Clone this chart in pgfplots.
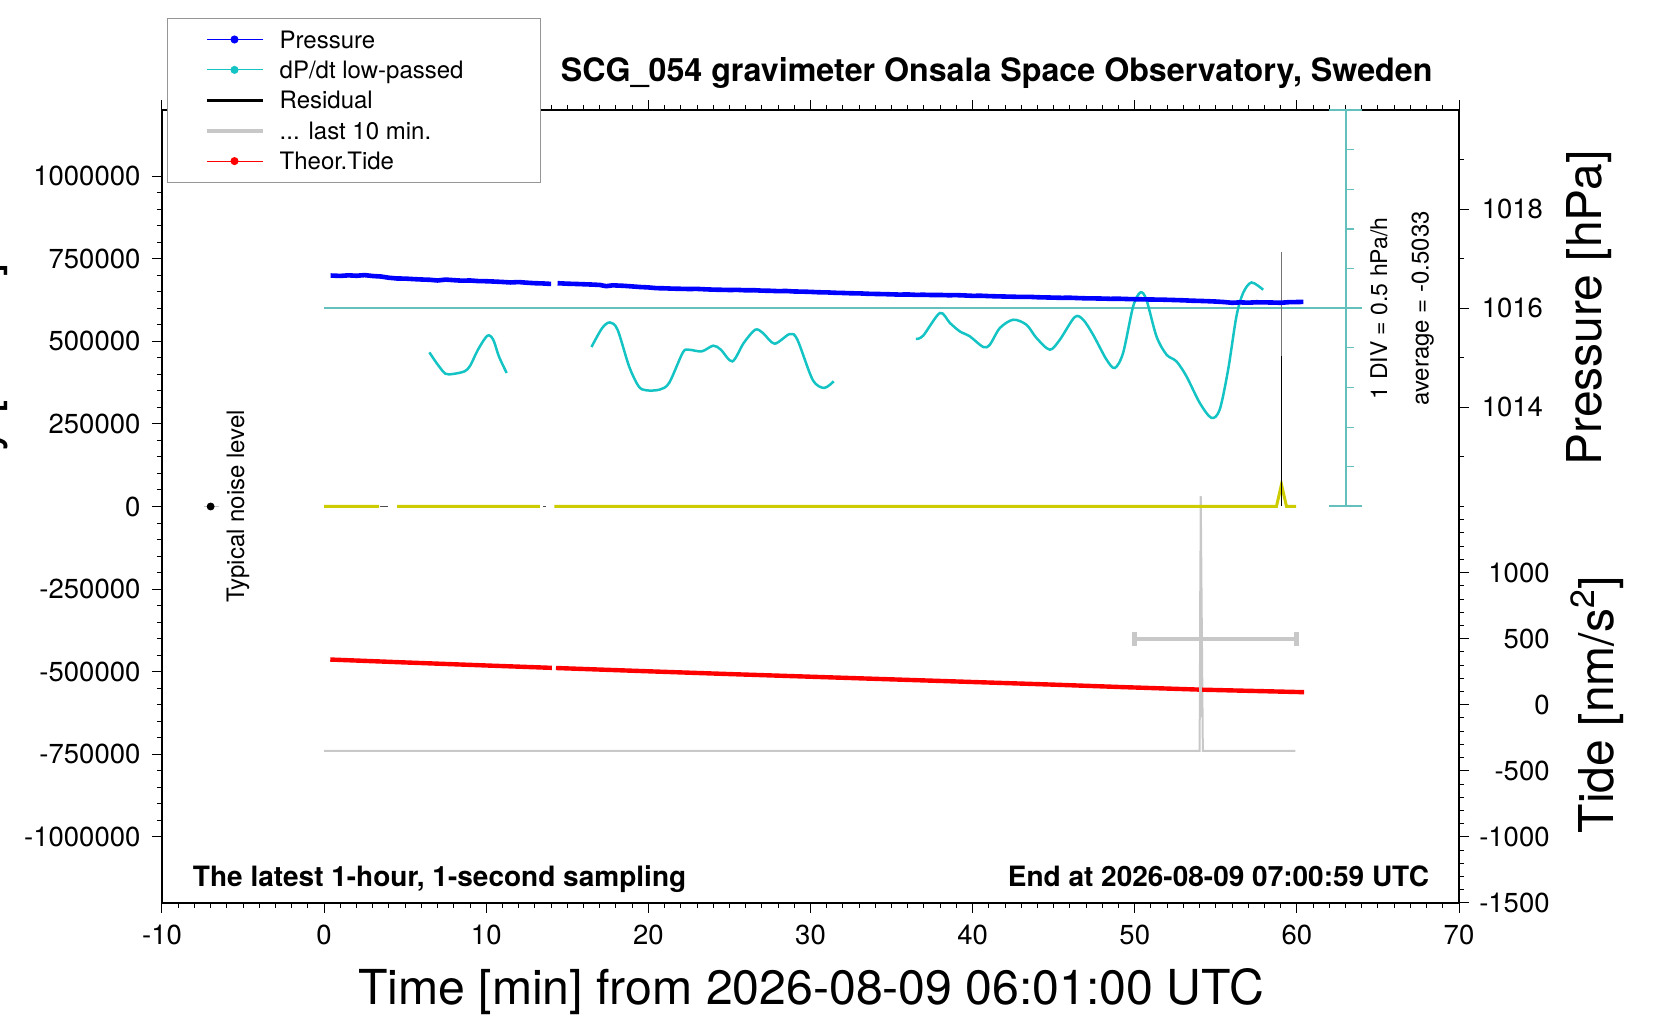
\documentclass[border=0pt]{standalone}
\usepackage{fontspec}
\setmainfont{TeX Gyre Heros}
\usepackage{pgfplots}
\pgfplotsset{compat=1.18}
\newlength\px \setlength\px{0.5pt}
\definecolor{pblue}{RGB}{0,0,255}
\definecolor{pcyan}{RGB}{20,196,196}
\definecolor{pteal}{RGB}{100,192,188}
\definecolor{pyel}{RGB}{204,204,0}
\definecolor{pred}{RGB}{255,0,0}
\definecolor{pgray}{RGB}{200,200,200}
\definecolor{lgray}{RGB}{150,150,150}
\begin{document}
\begin{tikzpicture}
\pgfplotsset{
  base/.style={scale only axis, width=1297\px, height=793\px, at={(0,0)}, anchor=south west,
    xmin=-10, xmax=70, unbounded coords=jump,
    tick align=outside, major tick length=5pt, minor tick length=2.5pt,
    tick style={black, line width=0.5pt},
    axis line style={line width=1pt},
    tick label style={font=\fontsize{13.75}{16}\selectfont, inner sep=0pt},
  }
}
% ---------------- main (left) axis, units of 1000 ----------------
\begin{axis}[base, ymin=-1200, ymax=1200,
  xtick={-10,0,10,20,30,40,50,60,70}, xticklabels={-10,0,10,20,30,40,50,60,70},
  minor x tick num=9, xtick pos=both, xticklabel pos=left,
  ytick={-1000,-750,-500,-250,0,250,500,750,1000},
  yticklabels={-1000000,-750000,-500000,-250000,0,250000,500000,750000,1000000},
  minor y tick num=4, ytick pos=left,
  xticklabel style={yshift=-6pt}, yticklabel style={xshift=-5.6pt}]
% dP/dt reference line and scale
\addplot[pteal, line width=1pt] coordinates {(0,600) (64,600)};
\addplot[pteal, line width=1pt] coordinates {(63,0) (63,1200)};
\addplot[pteal, line width=1pt] coordinates {(62,0) (64,0) (nan,nan) (62,1200) (64,1200)};
\addplot[pteal, line width=0.6pt] coordinates {(63,120) (63.5,120) (nan,nan) (63,240) (63.5,240) (nan,nan)
  (63,360) (63.5,360) (nan,nan) (63,480) (63.5,480) (nan,nan) (63,720) (63.5,720) (nan,nan)
  (63,840) (63.5,840) (nan,nan) (63,960) (63.5,960) (nan,nan) (63,1080) (63.5,1080)};
% dP/dt low-passed
\addplot[pcyan, line width=1.25pt, smooth, tension=0.5] coordinates {
 (6.49,466.4) (7.01,429.2) (7.48,402.0) (7.95,401.1) (8.66,409.0) (9.01,426.2) (9.49,474.6)
 (10.07,516.9) (10.43,504.8) (10.78,454.3) (11.26,404.1)};
\addplot[pcyan, line width=1.25pt, smooth, tension=0.5] coordinates {
 (16.49,482.7) (17.15,540.1) (17.63,557.1) (18.10,535.0) (18.81,424.1) (19.40,363.6) (19.87,351.6)
 (20.69,353.7) (21.28,373.9) (22.11,464.6) (22.46,474.6) (23.29,469.5) (24.0,486.7) (24.47,474.6)
 (25.18,439.2) (25.88,494.8) (26.59,535.0) (27.07,525.0) (27.78,492.7) (28.72,522.0) (29.19,504.8)
 (30.13,383.9) (30.84,358.8) (31.43,378.8)};
\addplot[pcyan, line width=1.25pt, smooth, tension=0.5] coordinates {
 (36.50,506.9) (36.95,516.9) (37.98,585.5) (38.6,555.3) (39.21,529.9) (39.83,514.8) (40.65,482.7)
 (41.06,489.7) (41.68,540.1) (42.50,565.2) (43.32,550.1) (43.94,509.9) (44.76,474.6) (45.38,504.8)
 (46.30,573.4) (46.82,565.2) (47.43,519.9) (48.26,444.3) (48.77,419.2) (49.28,464.6) (49.90,605.4)
 (50.35,647.8) (50.72,625.7) (51.34,514.8) (51.96,459.5) (52.57,439.2) (53.19,393.9) (54.01,313.4)
 (54.73,268.1) (55.24,293.2) (55.76,414.1) (56.27,575.2) (56.68,645.9) (57.20,678.0) (57.92,655.9)};
% last 10 min (grey baseline with spike)
\addplot[pgray, line width=1pt] coordinates {(0,-739.7) (54.0,-739.7) (54.07,31) (54.2,-739.7) (59.9,-739.7)};
% yellow zero line with spike
\addplot[pyel, line width=1.5pt] coordinates {(0,0) (3.4,0) (nan,nan) (4.5,0) (13.3,0) (nan,nan)
  (14.2,0) (58.74,0) (59.05,66.5) (59.36,0) (59.96,0)};
\addplot[black!70, line width=0.8pt] coordinates {(3.47,0) (3.91,0) (nan,nan) (13.49,0) (13.71,0)};
% residual
\addplot[black, line width=0.8pt] coordinates {(59.05,0) (59.05,454)};
\addplot[black!55, line width=0.6pt] coordinates {(59.05,454) (59.05,771.7)};
% typical noise level
\addplot[pgray, line width=0.8pt] coordinates {(-7.4,0) (-6.5,0)};
\addplot[black, only marks, mark=*, mark size=1.75pt] coordinates {(-7,0)};
\end{axis}
% ---------------- pressure axis ----------------
\begin{axis}[base, ymin=1004, ymax=1020, axis y line*=right, axis x line=none,
  ytick={1014,1016,1018}, yticklabels={1014,1016,1018}, minor ytick={1013,1015,1017,1019},
  yticklabel style={anchor=west, xshift=6.2pt}]
\addplot[pblue, line width=2.3pt, line join=round] coordinates {
 (0.4,1016.660) (1.0,1016.652) (1.5,1016.664) (2.0,1016.655) (2.5,1016.668) (3.0,1016.650)
 (3.5,1016.640) (4.0,1016.615) (4.5,1016.600) (5.0,1016.598) (5.5,1016.588) (6.0,1016.580)
 (6.5,1016.574) (7.0,1016.560) (7.5,1016.578) (8.0,1016.566) (8.5,1016.556) (9.0,1016.560)
 (9.5,1016.548) (10.0,1016.545) (10.5,1016.538) (11.0,1016.530) (11.5,1016.520) (12.0,1016.528)
 (12.5,1016.515) (13.0,1016.505) (13.5,1016.500) (14.0,1016.490)};
\addplot[pblue, line width=2.3pt, line join=round] coordinates {
 (14.4,1016.505) (15.0,1016.495) (15.5,1016.490) (16.0,1016.484) (16.5,1016.478) (17.0,1016.470)
 (17.4,1016.445) (17.8,1016.462) (18.5,1016.452) (19.0,1016.440) (19.5,1016.428) (20.0,1016.420)
 (20.5,1016.405) (21.0,1016.402) (21.5,1016.395) (22.0,1016.392) (22.5,1016.388) (23.0,1016.390)
 (23.5,1016.382) (24.0,1016.375) (24.5,1016.372) (25.0,1016.368) (25.5,1016.370) (26.0,1016.362)
 (26.5,1016.364) (27.0,1016.355) (27.5,1016.352) (28.0,1016.345) (28.5,1016.348) (29.0,1016.338)
 (29.5,1016.335) (30.0,1016.330) (30.5,1016.322) (31.0,1016.320) (31.5,1016.312) (32.0,1016.308)
 (32.5,1016.302) (33.0,1016.300) (33.5,1016.292) (34.0,1016.288) (34.5,1016.285) (35.0,1016.280)
 (35.5,1016.275) (36.0,1016.278) (36.5,1016.270) (37.0,1016.272) (37.5,1016.266) (38.0,1016.268)
 (38.5,1016.262) (39.0,1016.264) (39.5,1016.258) (40.0,1016.250) (40.5,1016.252) (41.0,1016.245)
 (41.5,1016.240) (42.0,1016.236) (42.5,1016.232) (43.0,1016.228) (43.5,1016.230) (44.0,1016.222)
 (44.5,1016.218) (45.0,1016.214) (45.5,1016.210) (46.0,1016.212) (46.5,1016.205) (47.0,1016.200)
 (47.5,1016.198) (48.0,1016.195) (48.5,1016.190) (49.0,1016.192) (49.5,1016.186) (50.0,1016.182)
 (50.5,1016.180) (51.0,1016.176) (51.5,1016.174) (52.0,1016.170) (52.5,1016.165) (53.0,1016.160)
 (53.5,1016.152) (54.0,1016.148) (54.5,1016.142) (55.0,1016.135) (55.5,1016.125) (56.0,1016.110)
 (56.5,1016.118) (57.0,1016.112) (57.5,1016.120) (58.0,1016.118) (58.5,1016.115) (59.0,1016.110)
 (59.5,1016.122) (60.0,1016.125) (60.4,1016.128)};
\end{axis}
% ---------------- tide axis ----------------
\begin{axis}[base, ymin=-1500, ymax=4500, axis y line*=right, axis x line=none,
  ytick={-1500,-1000,-500,0,500,1000}, yticklabels={-1500,-1000,-500,0,500,1000},
  minor ytick={-1400,-1300,-1200,-1100,-900,-800,-700,-600,-400,-300,-200,-100,100,200,300,400,600,700,800,900,1100,1200,1300,1400,1500},
  yticklabel style={anchor=east, xshift=40.5pt},
  legend cell align=left,
  legend style={at={(0.003855,1.11602)}, anchor=north west, draw=lgray, line width=0.5pt, fill=white,
    inner xsep=18.5pt, inner ysep=2.9pt, font=\fontsize{12}{14}\selectfont,
    nodes={inner sep=0pt, text height=11.9pt, text depth=3.3pt}, row sep=0pt, column sep=7.6pt}]
\addplot[pred, line width=2.2pt, forget plot] coordinates {(0.38,342) (5,320) (10,297) (14.05,279)};
\addplot[pred, line width=2.2pt, forget plot] coordinates {(14.3,278) (20,253) (25,232) (30,212) (35,192) (40,172) (45,152) (49.1,134) (54.1,114) (60.45,95)};
% error cross
\addplot[pgray, line width=2.3pt, forget plot] coordinates {(49.97,497) (59.97,497)};
\addplot[pgray, line width=2.3pt, forget plot] coordinates {(49.97,447) (49.97,547) (nan,nan) (59.97,447) (59.97,547)};
\addplot[pgray, line width=1.5pt, forget plot] coordinates {(54.07,-95) (54.07,860)};
% legend
\addlegendimage{legend image code/.code={\draw[pblue, line width=0.5pt] (0pt,0pt) -- (28pt,0pt); \fill[pblue] (14pt,0pt) circle (1.75pt);}}
\addlegendentry{\makebox[111.8pt][l]{Pressure}}
\addlegendimage{legend image code/.code={\draw[pcyan, line width=0.5pt] (0pt,0pt) -- (28pt,0pt); \fill[pcyan] (14pt,0pt) circle (1.75pt);}}
\addlegendentry{dP/dt low-passed}
\addlegendimage{legend image code/.code={\draw[black, line width=1.5pt] (0pt,0pt) -- (28pt,0pt);}}
\addlegendentry{Residual}
\addlegendimage{legend image code/.code={\draw[pgray, line width=2pt] (0pt,0pt) -- (28pt,0pt);}}
\addlegendentry{... last 10 min.}
\addlegendimage{legend image code/.code={\draw[pred, line width=0.5pt] (0pt,0pt) -- (28pt,0pt); \fill[pred] (14pt,0pt) circle (1.75pt);}}
\addlegendentry{Theor.Tide}
\end{axis}
% ---------------- texts ----------------
\node[font=\bfseries\fontsize{16.1}{19}\selectfont, anchor=base east, inner sep=0pt] at (1270.8\px,821.3\px) {SCG\_054 gravimeter Onsala Space Observatory, Sweden};
\node[font=\bfseries\fontsize{14}{17}\selectfont, anchor=base west, inner sep=0pt] at (30.6\px,16\px) {The latest 1-hour, 1-second sampling};
\node[font=\bfseries\fontsize{14}{17}\selectfont, anchor=base east, inner sep=0pt] at (1267.4\px,16\px) {End at 2026-08-09 07:00:59 UTC};
\node[font=\fontsize{24.1}{28}\selectfont, anchor=base, inner sep=0pt] at (649\px,-101.5\px) {Time [min] from 2026-08-09 06:01:00 UTC};
\node[font=\fontsize{24}{28}\selectfont, anchor=base, inner sep=0pt, rotate=90] at (1439.7\px,595\px) {Pressure [hPa]};
\node[font=\fontsize{24}{28}\selectfont, anchor=base, inner sep=0pt, rotate=90] at (1451\px,198.5\px) {Tide [nm/s\textsuperscript{2}]};
\node[font=\fontsize{24}{28}\selectfont, anchor=base east, inner sep=0pt, rotate=90] at (-164\px,640\px) {Residual Gravity [nm/s\textsuperscript{2}]};
\node[font=\fontsize{12}{14}\selectfont, anchor=base, inner sep=0pt, rotate=90] at (82\px,396.5\px) {Typical noise level};
\node[font=\fontsize{11.5}{14}\selectfont, anchor=base, inner sep=0pt, rotate=90] at (1225\px,594.7\px) {1 DIV = 0.5 hPa/h};
\node[font=\fontsize{12}{14}\selectfont, anchor=base, inner sep=0pt, rotate=90] at (1266.5\px,594.7\px) {average = -0.5033};
\pgfresetboundingbox
\path[use as bounding box] (-162\px,-117\px) rectangle (1498\px,903\px);
\end{tikzpicture}
\end{document}
